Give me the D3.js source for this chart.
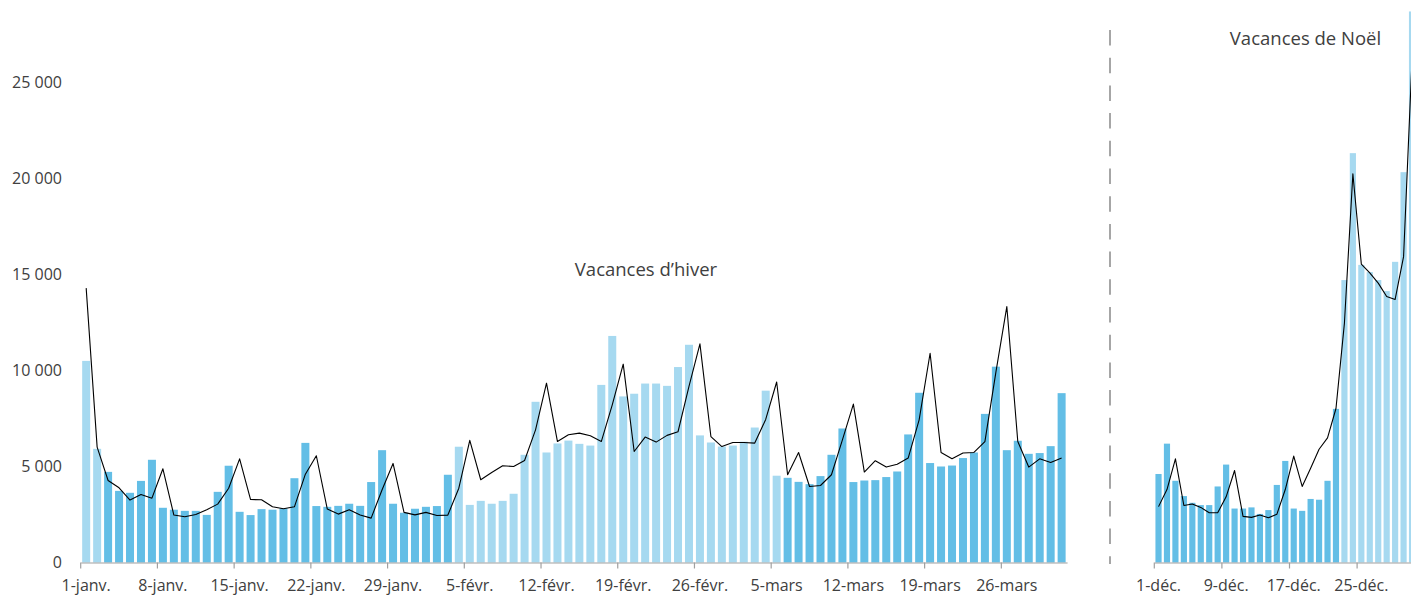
<!DOCTYPE html>
<html>
<head>
<meta charset="utf-8">
<script src="https://cdn.jsdelivr.net/npm/d3@7"></script>
<style>
  html, body { margin: 0; padding: 0; background: #fff; }
  svg { display: block; }
  text { font-family: "Open Sans", "Noto Sans", sans-serif; fill: #404040; }
</style>
</head>
<body>
<svg id="chart" width="1411" height="596"></svg>
<script>
// ---- Data ----
const winterValues = [10500, 5920, 4720, 3730, 3630, 4250, 5350, 2850, 2750, 2690,
  2690, 2480, 3680, 5040, 2640, 2470, 2780, 2750, 2820, 4390,
  6230, 2940, 2900, 2950, 3060, 2950, 4190, 5850, 3060, 2590,
  2800, 2900, 2940, 4570, 6030, 3000, 3210, 3060, 3210, 3580,
  5610, 8370, 5730, 6200, 6350, 6180, 6090, 9250, 11800, 8650,
  8790, 9320, 9320, 9200, 10180, 11340, 6620, 6250, 6040, 6090,
  6290, 7030, 8950, 4520, 4410, 4200, 4080, 4500, 5610, 6980,
  4190, 4270, 4290, 4450, 4740, 6670, 8840, 5180, 5000, 5050,
  5440, 5730, 7740, 10200, 5850, 6340, 5660, 5700, 6060, 8820];
const winterLine = [14290, 6010, 4270, 3890, 3250, 3540, 3350, 4880, 2470, 2380,
  2500, 2750, 3040, 3870, 5400, 3280, 3270, 2900, 2800, 2900,
  4600, 5560, 2780, 2520, 2750, 2470, 2310, 3790, 5160, 2610,
  2480, 2610, 2450, 2470, 3870, 6360, 4310, 4690, 5040, 5000,
  5310, 6910, 9340, 6300, 6650, 6740, 6600, 6300, 8210, 10330,
  5780, 6530, 6270, 6620, 6810, 9170, 11390, 6560, 6040, 6250,
  6250, 6220, 7450, 9400, 4570, 5730, 3960, 4010, 4570, 6390,
  8250, 4710, 5300, 4970, 5120, 5440, 7430, 10900, 5730, 5400,
  5700, 5730, 6300, 9900, 13330, 6300, 4970, 5400, 5210, 5440];
// holiday flag per day (1 = school holidays, light colour)
const winterHoliday = [1, 1].concat(d3.range(32).map(() => 0), d3.range(30).map(() => 1), d3.range(26).map(() => 0));
const winterTickDays = [0, 7, 14, 21, 28, 35, 42, 49, 56, 63, 70, 77, 84];
const winterTickLabels = ["1-janv.", "8-janv.", "15-janv.", "22-janv.", "29-janv.", "5-févr.", "12-févr.", "19-févr.", "26-févr.", "5-mars", "12-mars", "19-mars", "26-mars"];

const decValues = [4610, 6190, 4255, 3460, 3110, 2990, 2990, 3960, 5100, 2810,
  2810, 2870, 2530, 2730, 4040, 5290, 2810, 2690, 3310, 3270,
  4255, 8000, 14710, 21320, 15500, 15125, 14710, 14135, 15660, 20330, 28700];
const decLine = [2910, 3800, 5400, 2970, 3050, 2870, 2590, 2590, 3420, 4790,
  2400, 2350, 2470, 2330, 2510, 3800, 5540, 3960, 4910, 5900,
  6490, 8020, 12470, 20250, 15540, 15080, 14550, 13850, 13700, 15930, 26200];
const decHoliday = d3.range(22).map(() => 0).concat(d3.range(9).map(() => 1));
const decTickDays = [0, 8, 16, 24];
const decTickLabels = ["1-déc.", "9-déc.", "17-déc.", "25-déc."];

const yTicks = [0, 5000, 10000, 15000, 20000, 25000];

// ---- Chart ----
const colors = { work: "#63bee6", holiday: "#a6d9f0" };
const svg = d3.select("#chart");
const fr = d3.formatLocale({ decimal: ",", thousands: " ", grouping: [3], currency: ["", " €"] });
const fmt = fr.format(",d");

const y = d3.scaleLinear().domain([0, 30000]).range([562.5, -13.5]);

const pad = 0.27;
const xW = d3.scaleBand().domain(d3.range(winterValues.length)).range([80.7, 1067.1])
  .paddingInner(pad).paddingOuter(pad / 2);
const xD = d3.scaleBand().domain(d3.range(decValues.length)).range([1154.3, 1154.3 + 8.45 * decValues.length])
  .paddingInner(pad).paddingOuter(pad / 2);

// Y axis labels
const yAxis = d3.axisLeft(y).tickValues(yTicks).tickSize(0).tickPadding(0).tickFormat(fmt);
const gy = svg.append("g").attr("transform", "translate(62,0)").call(yAxis);
gy.select(".domain").remove();
gy.selectAll("text").style("font-size", "16px").attr("fill", "#404040");

function panel(x, values, line, holiday, tickDays, tickLabels) {
  const g = svg.append("g");
  g.selectAll("rect").data(values).join("rect")
    .attr("x", (d, i) => x(i))
    .attr("y", d => y(d))
    .attr("width", x.bandwidth())
    .attr("height", d => y(0) - y(d))
    .attr("fill", (d, i) => holiday[i] ? colors.holiday : colors.work);

  const lineGen = d3.line()
    .x((d, i) => x(i) + x.bandwidth() / 2)
    .y(d => y(d));
  g.append("path").datum(line)
    .attr("d", lineGen)
    .attr("fill", "none")
    .attr("stroke", "#000")
    .attr("stroke-width", 1.1)
    .attr("stroke-linejoin", "round");

  // X axis: domain line + labels at band centres
  const labelMap = new Map(tickDays.map((d, i) => [d, tickLabels[i]]));
  const xAxis = d3.axisBottom(x).tickValues(tickDays).tickSize(0).tickSizeOuter(0).tickPadding(17)
    .tickFormat(d => labelMap.get(d));
  const gx = svg.append("g").attr("transform", `translate(0,${y(0)})`).call(xAxis);
  gx.select(".domain").attr("stroke", "#a0a0a0").attr("stroke-width", 1.2);
  gx.selectAll("text").style("font-size", "16px").attr("fill", "#404040");
  // tick marks at band edges
  const edge = d => x(d) - x.step() * x.paddingInner() / 2;
  svg.append("g").selectAll("line").data(tickDays).join("line")
    .attr("x1", d => edge(d)).attr("x2", d => edge(d))
    .attr("y1", y(0)).attr("y2", y(0) + 6)
    .attr("stroke", "#a0a0a0").attr("stroke-width", 1.2);
}

panel(xW, winterValues, winterLine, winterHoliday, winterTickDays, winterTickLabels);
panel(xD, decValues, decLine, decHoliday, decTickDays, decTickLabels);

// separator
svg.append("line")
  .attr("x1", 1110).attr("x2", 1110).attr("y1", 30).attr("y2", 564)
  .attr("stroke", "#a6a6a6").attr("stroke-width", 2)
  .attr("stroke-dasharray", "15.5,12.2");

// annotations
svg.append("text").attr("x", 646).attr("y", 276).attr("text-anchor", "middle")
  .style("font-size", "18.5px").text("Vacances d’hiver");
svg.append("text").attr("x", 1305.5).attr("y", 45).attr("text-anchor", "middle")
  .style("font-size", "18.5px").text("Vacances de Noël");
</script>
</body>
</html>
